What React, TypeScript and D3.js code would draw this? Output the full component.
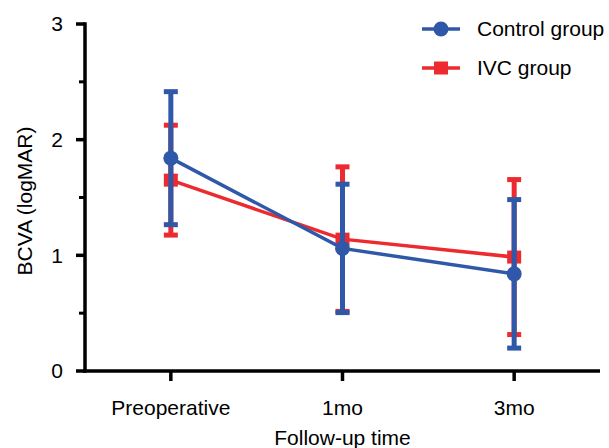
import React from "react";
import * as d3 from "d3";

const categories = ["Preoperative", "1mo", "3mo"];
const controlMean = [1.84, 1.06, 0.84];
const controlSd = [0.575, 0.555, 0.642];
const ivcMean = [1.65, 1.14, 0.985];
const ivcSd = [0.475, 0.625, 0.67];
const yTicks = [0, 1, 2, 3];
const yMinorTicks = [0.5, 1.5, 2.5];

const W = 609;
const H = 448;
const BLUE = "#2f58a9";
const RED = "#ec2a30";
const FONT = "Liberation Sans, Arial, sans-serif";
const FS = 21;

export default function App() {
  const x0 = 85;
  const x1 = 600;
  const yTop = 24;
  const yBot = 371;
  const x = d3.scalePoint<string>().domain(categories).range([x0, x1]).padding(0.5);
  const y = d3.scaleLinear().domain([0, 3]).range([yBot, yTop]);

  const series = [
    { name: "IVC group", mean: ivcMean, sd: ivcSd, color: RED, shape: "square" },
    { name: "Control group", mean: controlMean, sd: controlSd, color: BLUE, shape: "circle" },
  ];
  const line = d3
    .line<number>()
    .x((_, i) => x(categories[i]) as number)
    .y((d) => y(d));

  const marker = (shape: string, cx: number, cy: number, color: string, key?: string) =>
    shape === "circle" ? (
      <circle key={key} cx={cx} cy={cy} r={7.5} fill={color} />
    ) : (
      <rect key={key} x={cx - 7} y={cy - 6.5} width={14} height={13} fill={color} />
    );

  return (
    <svg width={W} height={H} style={{ position: "absolute", left: 0, top: 0 }}>
      <rect width={W} height={H} fill="#fff" />
      {series.map((s) => (
        <g key={s.name}>
          {s.mean.map((m, i) => {
            const cx = x(categories[i]) as number;
            const hi = y(m + s.sd[i]);
            const lo = y(m - s.sd[i]);
            return (
              <g key={i}>
                <line x1={cx} x2={cx} y1={hi} y2={lo} stroke={s.color} strokeWidth={5} />
                <line x1={cx - 7} x2={cx + 7} y1={hi} y2={hi} stroke={s.color} strokeWidth={5} />
                <line x1={cx - 7} x2={cx + 7} y1={lo} y2={lo} stroke={s.color} strokeWidth={5} />
              </g>
            );
          })}
          <path d={line(s.mean) || ""} fill="none" stroke={s.color} strokeWidth={3.5} />
          {s.mean.map((m, i) => marker(s.shape, x(categories[i]) as number, y(m), s.color, "m" + i))}
        </g>
      ))}
      <line x1={x0} x2={x0} y1={yTop - 1.75} y2={yBot + 1.75} stroke="#000" strokeWidth={3.5} />
      <line x1={x0 - 1.75} x2={x1} y1={yBot} y2={yBot} stroke="#000" strokeWidth={3.5} />
      {yTicks.map((t) => (
        <g key={t}>
          <line x1={x0 - 9} x2={x0} y1={y(t)} y2={y(t)} stroke="#000" strokeWidth={3.5} />
          <text x={x0 - 22} y={y(t)} dy="0.35em" textAnchor="end" fontSize={FS} fontFamily={FONT} fill="#000">
            {t}
          </text>
        </g>
      ))}
      {yMinorTicks.map((t) => (
        <line key={t} x1={x0 - 6} x2={x0} y1={y(t)} y2={y(t)} stroke="#000" strokeWidth={3} />
      ))}
      {categories.map((c) => (
        <g key={c}>
          <line x1={x(c) as number} x2={x(c) as number} y1={yBot} y2={yBot + 10} stroke="#000" strokeWidth={3.5} />
          <text x={x(c) as number} y={415} textAnchor="middle" fontSize={FS} fontFamily={FONT} fill="#000">
            {c}
          </text>
        </g>
      ))}
      <text x={(x0 + x1) / 2} y={445} textAnchor="middle" fontSize={FS} fontFamily={FONT} fill="#000">
        Follow-up time
      </text>
      <text
        transform={`translate(25,201) rotate(-90)`}
        textAnchor="middle"
        dy="0.35em"
        fontSize={FS}
        fontFamily={FONT}
        fill="#000"
      >
        BCVA (logMAR)
      </text>
      {[series[1], series[0]].map((s, i) => {
        const ly = 29 + i * 39;
        return (
          <g key={s.name}>
            <line x1={422} x2={460} y1={ly} y2={ly} stroke={s.color} strokeWidth={3.5} />
            {marker(s.shape, 441, ly, s.color)}
            <text x={477} y={ly} dy="0.35em" fontSize={FS} fontFamily={FONT} fill="#000">
              {s.name}
            </text>
          </g>
        );
      })}
    </svg>
  );
}
